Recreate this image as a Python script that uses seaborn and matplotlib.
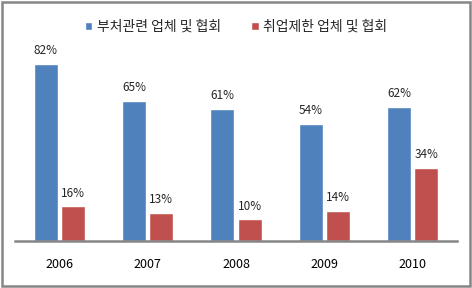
import matplotlib
matplotlib.use("Agg")
import matplotlib.pyplot as plt
import seaborn as sns
import pandas as pd
from matplotlib.patches import Rectangle

years = ["2006", "2007", "2008", "2009", "2010"]
series_names = ["부처관련 업체 및 협회", "취업제한 업체 및 협회"]
blue_vals = [82, 65, 61, 54, 62]
red_vals = [16, 13, 10, 14, 34]
colors = ["#4F81BD", "#C0504D"]

sns.set_theme(style="white")
plt.rcParams['font.family'] = ['Noto Sans CJK KR', 'DejaVu Sans']

df = pd.DataFrame({
    "year": years * 2,
    "series": [series_names[0]] * len(years) + [series_names[1]] * len(years),
    "value": blue_vals + red_vals,
})

fig = plt.figure(figsize=(4.72, 2.88), dpi=100)
ax = fig.add_axes([0.032, 0.163, 0.936, 0.675])
sns.barplot(data=df, x="year", y="value", hue="series", palette=colors,
            width=0.62, gap=0.12, saturation=1, ax=ax, legend=True)

ax.set_ylim(0, 90)
ax.set_xlim(-0.5, len(years) - 0.5)
ax.set_xlabel("")
ax.set_ylabel("")
ax.set_yticks([])
for s in ["top", "right", "left"]:
    ax.spines[s].set_visible(False)
ax.spines["bottom"].set_color("#868686")
ax.spines["bottom"].set_linewidth(1.8)
ax.tick_params(axis="x", length=0, pad=12, labelsize=9, colors="black")

for cont in ax.containers:
    ax.bar_label(cont, labels=[f"{int(v)}%" for v in cont.datavalues],
                 padding=5, fontsize=8.5)

handles, labels = ax.get_legend_handles_labels()
ax.get_legend().remove()
fig.legend(handles, labels, loc="upper center", bbox_to_anchor=(0.5, 0.975),
           ncol=2, frameon=False, fontsize=10, handlelength=0.55,
           handleheight=0.55, handletextpad=0.3, columnspacing=2.2)

fig.patches.append(Rectangle((0.004, 0.007), 0.992, 0.986, transform=fig.transFigure,
                             fill=False, edgecolor="#868686", linewidth=1.8))

fig.savefig("out.png", dpi=100)
